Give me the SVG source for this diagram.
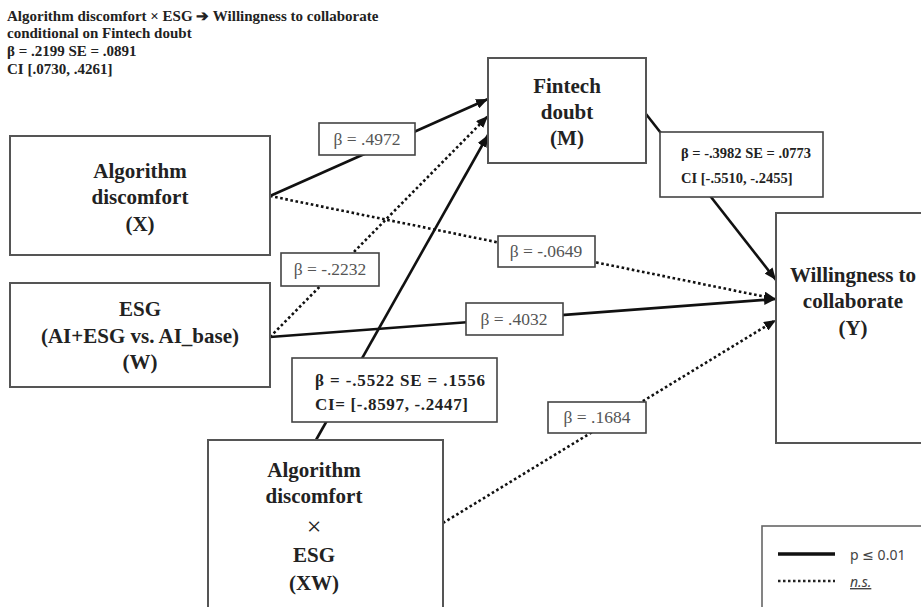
<svg xmlns="http://www.w3.org/2000/svg" width="921" height="607" viewBox="0 0 921 607">
<style>
.box{fill:#fff;stroke:#555;stroke-width:2}
.lbl{fill:#fff;stroke:#444;stroke-width:1.6}
.nt{font-family:"Liberation Serif","Times New Roman",serif;font-weight:bold;font-size:21px;fill:#222;text-anchor:middle}
.lt{font-family:"Liberation Serif","Times New Roman",serif;font-size:17.5px;fill:#555;text-anchor:middle}
.bt{font-family:"Liberation Serif","Times New Roman",serif;font-weight:bold;font-size:14.5px;fill:#222}
.tt{font-family:"Liberation Serif","Times New Roman",serif;font-weight:bold;font-size:15px;fill:#222}
.sol{fill:none;stroke:#111;stroke-width:2.6}
.dot{fill:none;stroke:#111;stroke-width:2.6;stroke-dasharray:2.6 2.6}
.lg{font-family:"Noto Sans","DejaVu Sans",sans-serif;font-size:14px;fill:#444}
</style>
<defs>
<marker id="ah" markerUnits="userSpaceOnUse" markerWidth="12" markerHeight="10" refX="12" refY="5" orient="auto">
<path d="M0,0 L12,5 L0,10 z" fill="#111"/>
</marker>
</defs>
<rect width="921" height="607" fill="#fff"/>

<g id="note">
<text class="tt" x="7" y="21">Algorithm discomfort × ESG ➔ Willingness to collaborate</text>
<text class="tt" x="7" y="38">conditional on Fintech doubt</text>
<text class="tt" x="7" y="56">β = .2199 SE = .0891</text>
<text class="tt" x="7" y="74">CI [.0730, .4261]</text>
</g>

<g id="connectors">
<path class="sol" d="M270,196 L488,99" marker-end="url(#ah)"/>
<path class="dot" d="M270,196 L776,299" marker-end="url(#ah)"/>
<path class="dot" d="M270,337 L488,116" marker-end="url(#ah)"/>
<path class="sol" d="M270,337 L776,299" marker-end="url(#ah)"/>
<path class="sol" d="M316,440 L488,135" marker-end="url(#ah)"/>
<path class="sol" d="M646,114 L776,280" marker-end="url(#ah)"/>
<path class="dot" d="M443,523 L776,320" marker-end="url(#ah)"/>
</g>

<g id="X">
<rect class="box" x="10" y="136" width="260" height="119"/>
<text class="nt" x="140" y="178">Algorithm</text>
<text class="nt" x="140" y="204">discomfort</text>
<text class="nt" x="140" y="231">(X)</text>
</g>

<g id="W">
<rect class="box" x="10" y="283" width="260" height="104"/>
<text class="nt" x="140" y="316">ESG</text>
<text class="nt" x="140" y="343">(AI+ESG vs. AI_base)</text>
<text class="nt" x="140" y="369">(W)</text>
</g>

<g id="XW">
<rect class="box" x="208" y="440" width="235" height="175"/>
<text class="nt" x="314" y="477">Algorithm</text>
<text class="nt" x="314" y="503">discomfort</text>
<text class="nt" x="314" y="535" style="font-weight:normal;font-size:26px">×</text>
<text class="nt" x="314" y="562">ESG</text>
<text class="nt" x="314" y="590">(XW)</text>
</g>

<g id="M">
<rect class="box" x="488" y="58" width="158" height="105"/>
<text class="nt" x="567" y="93">Fintech</text>
<text class="nt" x="567" y="119">doubt</text>
<text class="nt" x="567" y="145">(M)</text>
</g>

<g id="Y">
<rect class="box" x="776" y="213" width="150" height="230"/>
<text class="nt" x="853" y="282">Willingness to</text>
<text class="nt" x="853" y="308">collaborate</text>
<text class="nt" x="853" y="335">(Y)</text>
</g>

<g id="labels">
<rect class="lbl" x="319" y="123" width="96" height="32"/>
<text class="lt" x="367" y="145">β = .4972</text>
<rect class="lbl" x="498" y="236" width="97" height="31"/>
<text class="lt" x="546" y="257">β = -.0649</text>
<rect class="lbl" x="281" y="253" width="98" height="33"/>
<text class="lt" x="330" y="275">β = -.2232</text>
<rect class="lbl" x="466" y="303" width="97" height="32"/>
<text class="lt" x="514" y="325">β = .4032</text>
<rect class="lbl" x="548" y="402" width="98" height="31"/>
<text class="lt" x="597" y="423">β = .1684</text>
<rect class="lbl" x="660" y="132" width="163" height="65"/>
<text class="bt" x="681" y="158">β = -.3982 SE = .0773</text>
<text class="bt" x="681" y="183">CI [-.5510, -.2455]</text>
<rect class="lbl" x="292" y="358" width="205" height="64"/>
<text class="bt" x="315" y="386" style="font-size:17px" textLength="170" lengthAdjust="spacing">β = -.5522  SE = .1556</text>
<text class="bt" x="315" y="410" style="font-size:17px" textLength="153" lengthAdjust="spacing">CI= [-.8597, -.2447]</text>
</g>

<g id="legend">
<rect x="762" y="526" width="170" height="100" fill="#fff" stroke="#666" stroke-width="1.6"/>
<line x1="778" y1="554" x2="835" y2="554" stroke="#111" stroke-width="3.5"/>
<line x1="778" y1="581" x2="835" y2="581" stroke="#222" stroke-width="2.5" stroke-dasharray="2.5 2.5"/>
<text class="lg" x="850" y="560">p ≤ 0.01</text>
<text class="lg" x="850" y="587" font-style="italic" text-decoration="underline">n.s.</text>
</g>
</svg>
